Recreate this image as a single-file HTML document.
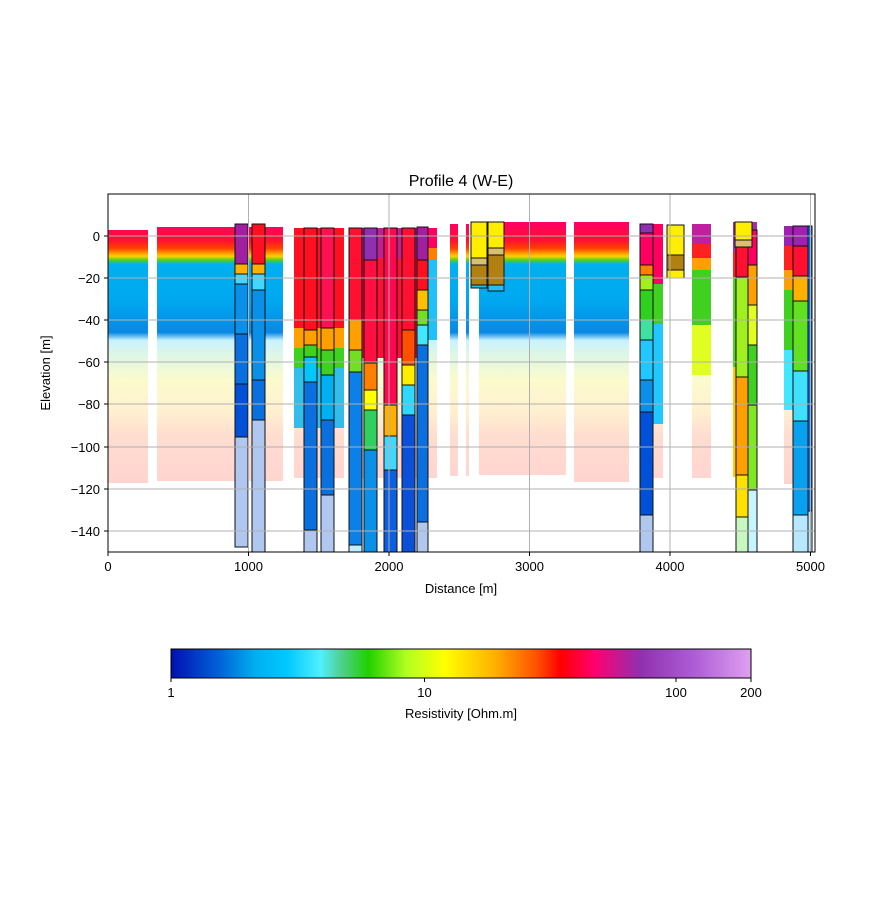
<!DOCTYPE html>
<html><head><meta charset="utf-8"><style>
body{margin:0;background:#fff;font-family:"Liberation Sans",sans-serif}
svg text{font-family:"Liberation Sans",sans-serif;fill:#000}
</style></head><body>
<svg width="891" height="892" viewBox="0 0 891 892" xmlns="http://www.w3.org/2000/svg">
<defs>
<linearGradient id="pan" x1="0" y1="222" x2="0" y2="485" gradientUnits="userSpaceOnUse">
<stop offset="0" stop-color="#ff0068"/>
<stop offset="0.07" stop-color="#ff1030"/>
<stop offset="0.1" stop-color="#ff4000"/>
<stop offset="0.13" stop-color="#ffd000"/>
<stop offset="0.145" stop-color="#50d020"/>
<stop offset="0.16" stop-color="#00b0f0"/>
<stop offset="0.3" stop-color="#00a8f0"/>
<stop offset="0.42" stop-color="#0a88e4"/>
<stop offset="0.45" stop-color="#c8f2ff"/>
<stop offset="0.5" stop-color="#dcf6e8"/>
<stop offset="0.6" stop-color="#fbfbcc"/>
<stop offset="0.72" stop-color="#fff0d0"/>
<stop offset="0.82" stop-color="#ffdcd0"/>
<stop offset="1" stop-color="#ffd4d0"/>
</linearGradient>
<linearGradient id="cb" x1="171" y1="0" x2="751" y2="0" gradientUnits="userSpaceOnUse">
<stop offset="0" stop-color="#0010b0"/>
<stop offset="0.081" stop-color="#0060d8"/>
<stop offset="0.146" stop-color="#00b0f0"/>
<stop offset="0.2" stop-color="#00c8ff"/>
<stop offset="0.258" stop-color="#50f0ff"/>
<stop offset="0.293" stop-color="#50d090"/>
<stop offset="0.34" stop-color="#20d000"/>
<stop offset="0.405" stop-color="#b0ff20"/>
<stop offset="0.472" stop-color="#ffff00"/>
<stop offset="0.559" stop-color="#ffb000"/>
<stop offset="0.631" stop-color="#ff5000"/>
<stop offset="0.671" stop-color="#ff0000"/>
<stop offset="0.731" stop-color="#ff0070"/>
<stop offset="0.81" stop-color="#9030b0"/>
<stop offset="0.908" stop-color="#b060d8"/>
<stop offset="1" stop-color="#e0a0f0"/>
</linearGradient>
</defs>
<text x="461" y="186" font-size="16" text-anchor="middle">Profile 4 (W-E)</text>
<g fill="url(#pan)">
<rect x="108" y="230" width="40" height="253"/>
<rect x="157" y="227" width="126" height="254"/>
<rect x="294" y="228" width="50" height="250"/>
<rect x="349" y="228" width="88" height="250"/>
<rect x="450" y="224" width="8" height="252"/>
<rect x="466" y="224" width="3" height="252"/>
<rect x="479" y="222" width="87" height="253"/>
<rect x="574" y="222" width="55" height="260"/>
<rect x="653" y="224" width="10" height="254"/>
<rect x="692" y="224" width="19" height="254"/>
<rect x="733" y="222" width="24" height="254"/>
<rect x="784" y="226" width="28" height="258"/>
</g>
<rect x="294" y="228" width="50" height="100" fill="#ff1020"/>
<rect x="294" y="328" width="50" height="20" fill="#ffa000"/>
<rect x="294" y="348" width="50" height="20" fill="#40d020"/>
<rect x="294" y="368" width="50" height="60" fill="#00b0f0" opacity="0.8"/>
<rect x="349" y="228" width="68" height="130" fill="#ff1030"/>
<rect x="349" y="228" width="68" height="30" fill="#c02090"/>
<rect x="428" y="228" width="9" height="20" fill="#ff0060"/>
<rect x="428" y="248" width="9" height="12" fill="#ff8000"/>
<rect x="428" y="260" width="9" height="80" fill="#20c0f8"/>
<rect x="692" y="224" width="19" height="20" fill="#c020a0"/>
<rect x="692" y="244" width="19" height="14" fill="#ff2020"/>
<rect x="692" y="258" width="19" height="12" fill="#ffa000"/>
<rect x="692" y="270" width="19" height="55" fill="#40d020"/>
<rect x="692" y="325" width="19" height="50" fill="#e0ff20"/>
<rect x="784" y="226" width="28" height="20" fill="#a020b0"/>
<rect x="784" y="246" width="28" height="24" fill="#ff2020"/>
<rect x="784" y="270" width="28" height="20" fill="#ffa000"/>
<rect x="784" y="290" width="28" height="60" fill="#40d020"/>
<rect x="784" y="350" width="28" height="60" fill="#40e8ff"/>
<rect x="733" y="222" width="24" height="30" fill="#a030b0"/>
<rect x="733" y="252" width="24" height="25" fill="#ff2020"/>
<rect x="733" y="277" width="24" height="90" fill="#50d020"/>
<rect x="733" y="367" width="24" height="110" fill="#ffcc00"/>
<rect x="640" y="224" width="23" height="60" fill="#ff0060"/>
<rect x="640" y="284" width="23" height="40" fill="#40d020"/>
<rect x="640" y="324" width="23" height="100" fill="#20c8ff"/>
<g stroke="#111" stroke-width="1">
<g><rect x="235" y="224" width="13" height="40" fill="#a020a0"/><rect x="235" y="264" width="13" height="10" fill="#ffb000"/><rect x="235" y="274" width="13" height="10" fill="#40d8ff"/><rect x="235" y="284" width="13" height="50" fill="#0a90e8"/><rect x="235" y="334" width="13" height="50" fill="#0a70e0"/><rect x="235" y="384" width="13" height="53" fill="#0050d8"/><rect x="235" y="437" width="13" height="110" fill="#b0c8f0"/></g>
<g><rect x="252" y="224" width="13" height="40" fill="#ff1020"/><rect x="252" y="264" width="13" height="10" fill="#ffb000"/><rect x="252" y="274" width="13" height="16" fill="#40d8ff"/><rect x="252" y="290" width="13" height="90" fill="#0a90e8"/><rect x="252" y="380" width="13" height="40" fill="#0a70e0"/><rect x="252" y="420" width="13" height="132" fill="#b0c8f0"/></g>
<g><rect x="304" y="228" width="13" height="102" fill="#ff1020"/><rect x="304" y="330" width="13" height="15" fill="#ffa000"/><rect x="304" y="345" width="13" height="12" fill="#40d020"/><rect x="304" y="357" width="13" height="25" fill="#00c8ff"/><rect x="304" y="382" width="13" height="148" fill="#0a70e0"/><rect x="304" y="530" width="13" height="22" fill="#b0c8f0"/></g>
<g><rect x="321" y="228" width="13" height="100" fill="#ff1050"/><rect x="321" y="328" width="13" height="22" fill="#ffa000"/><rect x="321" y="350" width="13" height="25" fill="#40d020"/><rect x="321" y="375" width="13" height="45" fill="#00b0f0"/><rect x="321" y="420" width="13" height="75" fill="#0a70e0"/><rect x="321" y="495" width="13" height="57" fill="#b0c8f0"/></g>
<g><rect x="349" y="228" width="13" height="92" fill="#ff1030"/><rect x="349" y="320" width="13" height="30" fill="#ffa000"/><rect x="349" y="350" width="13" height="22" fill="#70e020"/><rect x="349" y="372" width="13" height="173" fill="#0a80e8"/><rect x="349" y="545" width="13" height="7" fill="#c0f0ff"/></g>
<g><rect x="364" y="228" width="13" height="32" fill="#9030b0"/><rect x="364" y="260" width="13" height="103" fill="#ff1040"/><rect x="364" y="363" width="13" height="27" fill="#ff8000"/><rect x="364" y="390" width="13" height="20" fill="#ffff00"/><rect x="364" y="410" width="13" height="40" fill="#30d060"/><rect x="364" y="450" width="13" height="102" fill="#0a90e8"/></g>
<g><rect x="384" y="228" width="13" height="177" fill="#ff0850"/><rect x="384" y="405" width="13" height="31" fill="#ffb000"/><rect x="384" y="436" width="13" height="34" fill="#40d8ff"/><rect x="384" y="470" width="13" height="82" fill="#0a60e0"/></g>
<g><rect x="402" y="228" width="13" height="102" fill="#ff1030"/><rect x="402" y="330" width="13" height="35" fill="#ff5000"/><rect x="402" y="365" width="13" height="20" fill="#ffee00"/><rect x="402" y="385" width="13" height="30" fill="#30d8ff"/><rect x="402" y="415" width="13" height="137" fill="#0a50d8"/></g>
<g><rect x="417" y="227" width="11" height="33" fill="#a020a0"/><rect x="417" y="260" width="11" height="30" fill="#ff1020"/><rect x="417" y="290" width="11" height="20" fill="#ffc000"/><rect x="417" y="310" width="11" height="15" fill="#70e020"/><rect x="417" y="325" width="11" height="20" fill="#40e8ff"/><rect x="417" y="345" width="11" height="177" fill="#0a70e0"/><rect x="417" y="522" width="11" height="30" fill="#b0c8f0"/></g>
<g><rect x="471" y="222" width="16" height="36" fill="#ffee00"/><rect x="471" y="258" width="16" height="7" fill="#d8c070"/><rect x="471" y="265" width="16" height="20" fill="#b08010"/><rect x="471" y="285" width="16" height="3" fill="#20c0f0"/></g>
<g><rect x="488" y="222" width="16" height="26" fill="#ffee00"/><rect x="488" y="248" width="16" height="7" fill="#d8c070"/><rect x="488" y="255" width="16" height="30" fill="#b08010"/><rect x="488" y="285" width="16" height="6" fill="#20c0f0"/></g>
<g><rect x="640" y="224" width="13" height="9" fill="#9030b0"/><rect x="640" y="233" width="13" height="32" fill="#ff0060"/><rect x="640" y="265" width="13" height="10" fill="#ff8000"/><rect x="640" y="275" width="13" height="15" fill="#a0f020"/><rect x="640" y="290" width="13" height="30" fill="#30d020"/><rect x="640" y="320" width="13" height="20" fill="#40e0a0"/><rect x="640" y="340" width="13" height="40" fill="#20c8ff"/><rect x="640" y="380" width="13" height="32" fill="#0a90e8"/><rect x="640" y="412" width="13" height="103" fill="#0050d8"/><rect x="640" y="515" width="13" height="37" fill="#b0c8f0"/></g>
<g><rect x="667" y="225" width="17" height="30" fill="#ffee00"/><rect x="667" y="255" width="17" height="15" fill="#b08010"/><rect x="667" y="270" width="17" height="8" fill="#ffee00"/></g>
<g><rect x="736" y="247" width="12" height="30" fill="#ff1030"/><rect x="736" y="277" width="12" height="100" fill="#a0f020"/><rect x="736" y="377" width="12" height="98" fill="#ffa000"/><rect x="736" y="475" width="12" height="42" fill="#ffe000"/><rect x="736" y="517" width="12" height="35" fill="#c8f8c0"/></g>
<g><rect x="748" y="230" width="9" height="35" fill="#ff0060"/><rect x="748" y="265" width="9" height="40" fill="#ffa000"/><rect x="748" y="305" width="9" height="40" fill="#e0ff20"/><rect x="748" y="345" width="9" height="60" fill="#40d020"/><rect x="748" y="405" width="9" height="85" fill="#80e820"/><rect x="748" y="490" width="9" height="62" fill="#c8f4ff"/></g>
<g><rect x="735" y="222" width="17" height="18" fill="#ffee00"/><rect x="735" y="240" width="17" height="7" fill="#d8c070"/></g>
<g><rect x="793" y="226" width="15" height="20" fill="#a020b0"/><rect x="793" y="246" width="15" height="30" fill="#ff1030"/><rect x="793" y="276" width="15" height="25" fill="#ffb000"/><rect x="793" y="301" width="15" height="70" fill="#60e020"/><rect x="793" y="371" width="15" height="50" fill="#40e0ff"/><rect x="793" y="421" width="15" height="94" fill="#0aa0f0"/><rect x="793" y="515" width="15" height="37" fill="#b8e8ff"/></g>
<g><rect x="808" y="226" width="4" height="285" fill="#0a70e0"/><rect x="808" y="511" width="4" height="41" fill="#c0e8ff"/></g>
</g>
<g stroke="#b0b0b0" stroke-width="1">
<line x1="248.5" y1="194" x2="248.5" y2="552"/><line x1="389" y1="194" x2="389" y2="552"/><line x1="529.5" y1="194" x2="529.5" y2="552"/><line x1="670" y1="194" x2="670" y2="552"/><line x1="810.5" y1="194" x2="810.5" y2="552"/>
<line x1="108" y1="236" x2="815" y2="236"/><line x1="108" y1="278" x2="815" y2="278"/><line x1="108" y1="320" x2="815" y2="320"/><line x1="108" y1="362" x2="815" y2="362"/><line x1="108" y1="404" x2="815" y2="404"/><line x1="108" y1="447" x2="815" y2="447"/><line x1="108" y1="489" x2="815" y2="489"/><line x1="108" y1="531" x2="815" y2="531"/>
</g>
<rect x="108" y="194" width="707" height="358" fill="none" stroke="#000" stroke-width="1"/>
<g stroke="#000">
<line x1="108" y1="552" x2="108" y2="556"/><line x1="248.5" y1="552" x2="248.5" y2="556"/><line x1="389" y1="552" x2="389" y2="556"/><line x1="529.5" y1="552" x2="529.5" y2="556"/><line x1="670" y1="552" x2="670" y2="556"/><line x1="810.5" y1="552" x2="810.5" y2="556"/>
<line x1="104" y1="236" x2="108" y2="236"/><line x1="104" y1="278" x2="108" y2="278"/><line x1="104" y1="320" x2="108" y2="320"/><line x1="104" y1="362" x2="108" y2="362"/><line x1="104" y1="404" x2="108" y2="404"/><line x1="104" y1="447" x2="108" y2="447"/><line x1="104" y1="489" x2="108" y2="489"/><line x1="104" y1="531" x2="108" y2="531"/>
</g>
<g font-size="13" text-anchor="middle">
<text x="108" y="571">0</text><text x="248.5" y="571">1000</text><text x="389" y="571">2000</text><text x="529.5" y="571">3000</text><text x="670" y="571">4000</text><text x="810.5" y="571">5000</text>
<text x="461" y="593">Distance [m]</text>
</g>
<g font-size="13" text-anchor="end">
<text x="100" y="241">0</text><text x="100" y="283">−20</text><text x="100" y="325">−40</text><text x="100" y="367">−60</text><text x="100" y="409">−80</text><text x="100" y="452">−100</text><text x="100" y="494">−120</text><text x="100" y="536">−140</text>
</g>
<text transform="translate(50,373) rotate(-90)" font-size="13" text-anchor="middle">Elevation [m]</text>
<rect x="171" y="649" width="580" height="29" fill="url(#cb)" stroke="#000" stroke-width="1"/>
<g stroke="#000"><line x1="171" y1="678" x2="171" y2="682"/><line x1="424.5" y1="678" x2="424.5" y2="682"/><line x1="676" y1="678" x2="676" y2="682"/><line x1="751" y1="678" x2="751" y2="682"/></g>
<g font-size="13" text-anchor="middle">
<text x="171" y="697">1</text><text x="424.5" y="697">10</text><text x="676" y="697">100</text><text x="751" y="697">200</text>
<text x="461" y="718">Resistivity [Ohm.m]</text>
</g>
</svg>
</body></html>
